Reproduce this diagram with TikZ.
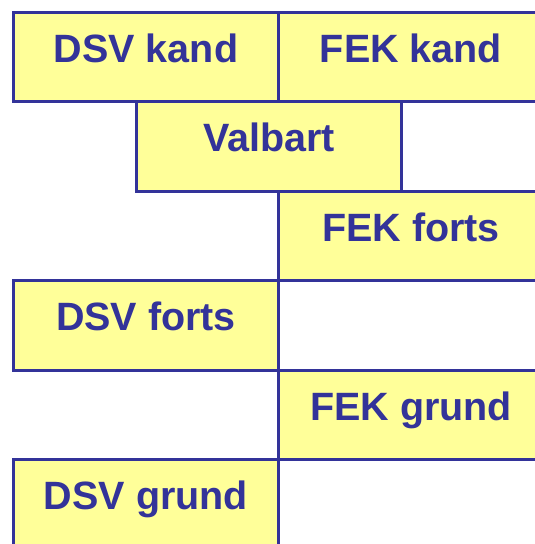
\documentclass[tikz,border=0pt]{standalone}
\usepackage{fontspec}
\setmainfont{Liberation Sans}
\definecolor{edge}{HTML}{333399}
\definecolor{boxfill}{HTML}{FFFF99}
\begin{document}
\begin{tikzpicture}[x=1pt,y=-1pt,
  cell/.style={draw=edge, fill=boxfill, line width=3pt, rectangle, inner sep=0pt,
    minimum width=265pt, minimum height=89.5pt, text height=50pt, text depth=39.5pt,
    text=edge, font=\fontsize{39.5}{45}\selectfont\bfseries, anchor=north west}]
\useasboundingbox (0,0) rectangle (535,544);
\clip (0,0) rectangle (535,544);
\node[cell] (dsvk) at (12,10.7) {DSV kand};
\node[cell] (fekk) at (277,10.7) {FEK kand};
\node[cell] (valb) at (135,100.2) {Valbart};
\node[cell] (fekf) at (277,189.7) {FEK forts};
\node[cell] (dsvf) at (12,279.2) {DSV forts};
\node[cell] (fekg) at (277,368.7) {FEK grund};
\node[cell] (dsvg) at (12,458.2) {DSV grund};
\end{tikzpicture}
\end{document}
